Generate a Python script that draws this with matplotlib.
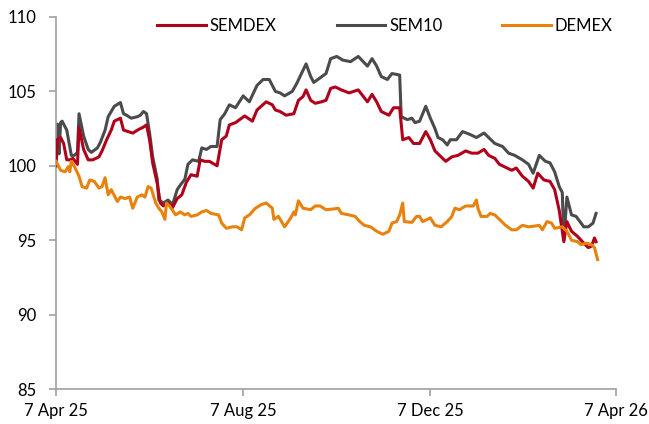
import numpy as np
import pandas as pd
import matplotlib
matplotlib.use("Agg")
import matplotlib.pyplot as plt

plt.rcParams["font.family"] = ["Lato", "DejaVu Sans"]

# ---- data (day offsets from 7 Apr 2025, index level) ----
start = pd.Timestamp("2025-04-07")

sem10_days = [0, 1, 2, 3, 4, 7, 10, 12, 14, 15, 18, 21, 23, 27, 29, 32, 34, 36, 38, 42,
              44, 46, 49, 53, 55, 57, 59, 61, 63, 66, 67, 70, 73, 76, 79, 81, 84, 86, 89, 93,
              95, 98, 101, 105, 107, 110, 113, 117, 122, 126, 131, 135, 139, 143, 146, 149, 154, 157, 160, 163,
              166, 168, 172, 176, 179, 183, 187, 192, 197, 203, 206, 209, 212, 216, 219, 224, 225, 229, 232, 234,
              237, 241, 244, 247, 249, 252, 255, 257, 261, 265, 270, 274, 279, 282, 286, 291, 295, 299, 304, 308,
              311, 315, 319, 322, 325, 328, 330, 331, 333, 336, 339, 344, 347, 350, 352]
sem10_vals = [100.5, 102.8, 100.8, 102.9, 103.0, 102.4, 100.7, 100.7, 100.9, 103.5, 102.0, 101.1, 100.9, 101.2, 101.6, 102.4, 103.3, 103.65, 104.0, 104.25,
              103.5, 103.4, 103.2, 103.3, 103.4, 103.65, 103.5, 102.2, 100.6, 99.1, 97.7, 97.5, 97.7, 97.4, 98.4, 98.7, 99.1, 100.1, 100.4, 100.3,
              101.2, 101.1, 101.3, 101.3, 103.1, 103.5, 104.1, 103.9, 104.7, 104.3, 105.4, 105.8, 105.8, 105.0, 104.9, 104.7, 105.0, 105.55, 106.2, 106.85,
              106.0, 105.6, 105.9, 106.2, 107.2, 107.35, 107.1, 107.0, 107.35, 106.7, 107.2, 106.7, 106.0, 105.8, 106.2, 106.1, 103.3, 103.1, 103.2, 102.9,
              103.0, 104.0, 103.2, 102.5, 101.9, 101.75, 101.4, 101.75, 101.75, 102.3, 102.1, 101.9, 102.2, 101.9, 101.5, 101.3, 100.85, 100.7, 100.4, 100.1,
              99.5, 100.7, 100.3, 100.2, 99.6, 98.6, 98.2, 95.0, 97.9, 96.7, 96.6, 95.9, 95.9, 96.15, 96.8]

semdex_days = [0, 1, 3, 5, 7, 9, 11, 14, 15, 18, 21, 24, 28, 30, 33, 36, 38, 42, 44, 47,
               50, 54, 57, 59, 61, 63, 66, 68, 70, 73, 76, 79, 82, 85, 88, 92, 94, 97, 100, 105,
               108, 111, 113, 117, 123, 128, 131, 137, 141, 143, 146, 150, 155, 158, 161, 163, 166, 169, 173, 176,
               179, 182, 186, 191, 197, 203, 206, 209, 212, 217, 220, 224, 226, 230, 233, 237, 241, 244, 247, 250,
               254, 258, 262, 267, 271, 275, 279, 282, 286, 289, 294, 297, 300, 304, 308, 311, 314, 318, 322, 325,
               328, 331, 333, 336, 340, 344, 347, 349, 351, 352]
semdex_vals = [100.0, 101.8, 101.9, 101.5, 100.4, 100.4, 100.5, 100.1, 102.6, 101.1, 100.4, 100.4, 100.6, 101.0, 101.75, 102.4, 103.0, 103.2, 102.4, 102.3,
               102.2, 102.45, 102.6, 102.75, 101.75, 100.2, 98.8, 97.5, 97.3, 97.5, 97.2, 97.8, 98.05, 98.9, 99.4, 99.3, 100.4, 100.3, 100.3, 100.0,
               101.75, 102.0, 102.75, 102.9, 103.35, 103.0, 103.75, 104.3, 104.1, 103.75, 103.65, 103.4, 103.5, 104.4, 104.65, 105.1, 104.4, 104.2, 104.3, 104.4,
               105.2, 105.3, 105.1, 104.9, 105.1, 104.3, 104.8, 104.3, 103.65, 103.4, 103.9, 103.9, 101.75, 101.9, 101.5, 101.5, 102.3, 101.75, 101.0, 100.7,
               100.3, 100.6, 100.7, 101.0, 100.85, 100.85, 101.1, 100.7, 100.5, 100.1, 99.85, 99.7, 99.85, 99.3, 98.95, 98.5, 99.5, 99.05, 98.95, 98.4,
               97.0, 94.9, 96.25, 95.6, 95.25, 94.8, 94.5, 94.6, 95.15, 94.9]

demex_days = [0, 3, 6, 8, 9, 10, 12, 15, 17, 20, 22, 25, 28, 30, 32, 34, 36, 40, 42, 45,
              48, 50, 53, 56, 58, 60, 62, 65, 67, 69, 71, 72, 74, 78, 81, 84, 86, 88, 92, 95,
              98, 101, 106, 108, 111, 115, 118, 121, 123, 126, 130, 134, 137, 141, 142, 145, 149, 153, 155, 156,
              158, 161, 166, 169, 172, 176, 181, 184, 186, 191, 195, 198, 201, 205, 209, 213, 217, 219, 222, 224,
              226, 227, 232, 235, 237, 239, 244, 247, 251, 255, 258, 260, 263, 267, 272, 274, 275, 277, 281, 283,
              286, 289, 293, 297, 300, 304, 308, 312, 315, 317, 320, 323, 325, 330, 333, 336, 340, 342, 346, 349,
              351, 353]
demex_vals = [100.3, 99.7, 99.6, 99.95, 99.6, 100.3, 99.95, 99.3, 98.6, 98.5, 99.05, 98.95, 98.5, 98.6, 99.2, 98.05, 98.4, 97.6, 97.9, 97.8,
              97.9, 97.15, 97.9, 98.05, 97.9, 98.6, 98.5, 97.5, 97.15, 96.9, 96.4, 97.5, 97.3, 96.7, 96.9, 96.7, 96.8, 96.6, 96.7, 96.9,
              97.0, 96.8, 96.7, 96.15, 95.8, 95.9, 95.9, 95.7, 96.5, 96.7, 97.15, 97.4, 97.5, 97.15, 96.4, 96.6, 95.9, 96.5, 96.9, 96.7,
              97.65, 97.15, 97.05, 97.3, 97.3, 97.05, 97.1, 97.15, 96.8, 96.7, 96.6, 96.25, 96.0, 95.9, 95.6, 95.4, 95.6, 96.15, 96.25, 96.7,
              97.5, 96.25, 96.2, 96.6, 96.6, 96.25, 96.5, 96.0, 95.9, 96.25, 96.6, 97.15, 97.05, 97.3, 97.3, 97.7, 97.15, 96.6, 96.6, 96.8,
              96.7, 96.4, 96.0, 95.7, 95.7, 96.0, 95.9, 95.95, 96.0, 95.7, 96.25, 96.15, 95.8, 95.9, 95.6, 95.0, 94.9, 94.7, 94.8, 94.7,
              94.5, 93.7]

tick_dates = ["2025-04-07", "2025-08-07", "2025-12-07", "2026-04-07"]
tick_labels = ["7 Apr 25", "7 Aug 25", "7 Dec 25", "7 Apr 26"]
y_ticks = [85, 90, 95, 100, 105, 110]


def to_dates(days):
    return start + pd.to_timedelta(days, unit="D")


# ---- figure ----
fig = plt.figure(figsize=(6.49, 4.24), dpi=100, facecolor="white")
ax = fig.add_axes([56 / 649, 1 - 389 / 424, 560 / 649, 372 / 424])

ax.plot(to_dates(semdex_days), semdex_vals, color="#B0001A", lw=2.2, label="SEMDEX", zorder=3)
ax.plot(to_dates(sem10_days), sem10_vals, color="#4B4B4B", lw=2.2, label="SEM10", zorder=2)
ax.plot(to_dates(demex_days), demex_vals, color="#E8820C", lw=2.2, label="DEMEX", zorder=4)

ax.set_xlim(pd.Timestamp(tick_dates[0]), pd.Timestamp(tick_dates[-1]))
ax.set_ylim(85, 110)
ax.set_xticks(pd.to_datetime(tick_dates))
ax.set_xticklabels(tick_labels)
ax.set_yticks(y_ticks)

for side in ["top", "right"]:
    ax.spines[side].set_visible(False)
for side in ["left", "bottom"]:
    ax.spines[side].set_color("#A0A0A0")
    ax.spines[side].set_linewidth(1.2)

ax.tick_params(axis="both", colors="#A0A0A0", labelcolor="black", labelsize=12,
               length=5, width=1.2, direction="out")
ax.tick_params(axis="y", pad=9)
ax.tick_params(axis="x", pad=5)

# legend in one row above the lines
fig.legend(loc="center", bbox_to_anchor=(385 / 649, 1 - 26 / 424), ncol=3, frameon=False,
           fontsize=12, handlelength=2.9, handletextpad=0.25, columnspacing=3.6, borderpad=0)

fig.savefig("out.png", dpi=100, facecolor="white")
